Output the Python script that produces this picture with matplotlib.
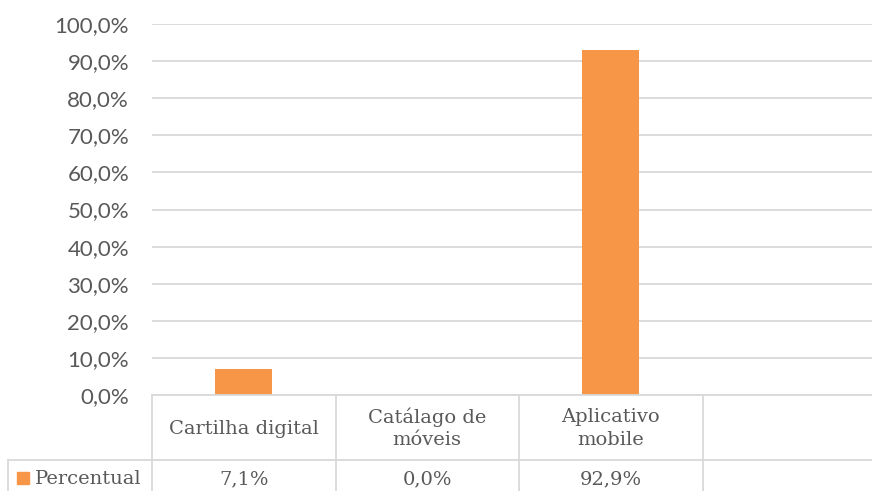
import matplotlib
matplotlib.use("Agg")
import matplotlib.pyplot as plt
from matplotlib.transforms import blended_transform_factory
from matplotlib.patches import Rectangle
from matplotlib.lines import Line2D

# ---- data ----
categories = ["Cartilha digital", "Catálago de\nmóveis", "Aplicativo\nmobile"]
values = [7.1, 0.0, 92.9]
value_labels = ["7,1%", "0,0%", "92,9%"]
series_name = "Percentual"
y_ticks = [0, 10, 20, 30, 40, 50, 60, 70, 80, 90, 100]
y_tick_labels = ["0,0%", "10,0%", "20,0%", "30,0%", "40,0%", "50,0%",
                 "60,0%", "70,0%", "80,0%", "90,0%", "100,0%"]

# ---- layout ----
W, H = 872, 491
n_slots = 4  # the table shows one extra empty column
bar_color = "#F79646"
grid_color = "#D9D9D9"
text_color = "#595959"
sans = ["Lato", "DejaVu Sans"]
serif = ["DejaVu Serif"]

fig = plt.figure(figsize=(W / 100, H / 100), dpi=100)
left_px, right_px = 152, 152 + 183.5 * n_slots
top_px, zero_px = 24, 395
ax = fig.add_axes([left_px / W, (H - zero_px) / H,
                   (right_px - left_px) / W, (zero_px - top_px) / H])

x = list(range(len(categories)))
ax.bar(x, values, width=0.31, color=bar_color, zorder=3)
ax.set_xlim(-0.5, n_slots - 0.5)
ax.set_ylim(0, 100)
ax.set_yticks(y_ticks)
ax.set_yticklabels(y_tick_labels, fontfamily=sans, fontsize=16, color=text_color)
ax.tick_params(axis="y", length=0, pad=16.5)
ax.set_xticks([])
ax.grid(axis="y", color=grid_color, linewidth=1.3, zorder=0)
for s in ax.spines.values():
    s.set_visible(False)

# ---- data table ----
tr = blended_transform_factory(ax.transData, fig.transFigure)
def fy(py):
    return (H - py) / H

row1_bottom = 460
bottom = 500
lw = 1.3
for py in (zero_px, row1_bottom):
    fig.add_artist(Line2D([-0.5, n_slots - 0.5], [fy(py), fy(py)], transform=tr,
                          color=grid_color, lw=lw, clip_on=False))
fig.add_artist(Line2D([8 / W, left_px / W], [fy(row1_bottom), fy(row1_bottom)],
                      transform=fig.transFigure, color=grid_color, lw=lw))
fig.add_artist(Line2D([8 / W, 8 / W], [fy(row1_bottom), fy(bottom)],
                      transform=fig.transFigure, color=grid_color, lw=lw))
for i in range(n_slots + 1):
    xb = i - 0.5
    fig.add_artist(Line2D([xb, xb], [fy(zero_px), fy(bottom)], transform=tr,
                          color=grid_color, lw=lw, clip_on=False))

for i, cat in enumerate(categories):
    fig.text(i, fy((zero_px + row1_bottom) / 2 + 1), cat, transform=tr,
             ha="center", va="center", fontfamily=serif, fontsize=14,
             color=text_color, linespacing=1.3)
    fig.text(i, fy(479), value_labels[i], transform=tr, ha="center",
             va="center", fontfamily=serif, fontsize=14, color=text_color)

fig.add_artist(Rectangle((17 / W, fy(484)), 12 / W, 12 / H,
                         transform=fig.transFigure, color=bar_color))
fig.text(35 / W, fy(479), series_name, ha="left", va="center",
         fontfamily=serif, fontsize=14, color=text_color)

fig.savefig("out.png", dpi=100)
